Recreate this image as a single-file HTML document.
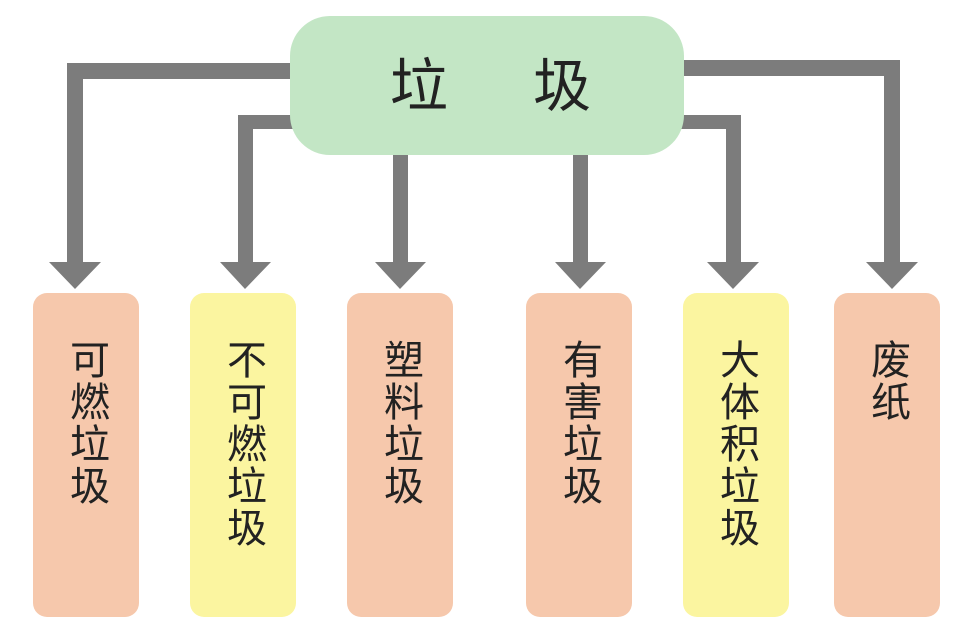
<!DOCTYPE html>
<html><head><meta charset="utf-8"><style>
body{margin:0;width:956px;height:642px;background:#fff;position:relative;overflow:hidden;font-family:"Liberation Sans","Noto Sans CJK SC",sans-serif;color:#222}
.b{position:absolute;top:293px;width:106px;height:324px;border-radius:14px;writing-mode:vertical-rl;font-size:40px;line-height:106px;padding-top:46px;box-sizing:border-box;letter-spacing:2px}
.p{background:#f6c8ac}.y{background:#fbf5a0}
</style></head><body>
<svg width="956" height="642" style="position:absolute;left:0;top:0">
<g fill="#7c7c7c">
<rect x="67" y="63" width="230" height="16"/><rect x="67" y="63" width="16" height="205"/>
<rect x="238" y="115" width="60" height="14"/><rect x="238" y="115" width="15" height="153"/>
<rect x="393" y="140" width="15" height="128"/>
<rect x="573" y="140" width="15" height="128"/>
<rect x="676" y="115" width="65" height="14"/><rect x="726" y="115" width="15" height="153"/>
<rect x="676" y="60" width="224" height="16"/><rect x="884" y="60" width="16" height="208"/>
<polygon points="49,262 101,262 75,289"/>
<polygon points="220,262 271,262 245,289"/>
<polygon points="375,262 426,262 400,289"/>
<polygon points="555,262 606,262 580,289"/>
<polygon points="707,262 759,262 733,289"/>
<polygon points="866,262 918,262 892,289"/>
</g>
<rect x="290" y="16" width="394" height="139" rx="40" fill="#c3e6c5"/>
<text x="390" y="106" font-size="58" font-family="Noto Sans CJK SC" fill="#222">垃</text>
<text x="533" y="106" font-size="58" font-family="Noto Sans CJK SC" fill="#222">圾</text>
</svg>
<div class="b p" style="left:33px">可燃垃圾</div>
<div class="b y" style="left:190px">不可燃垃圾</div>
<div class="b p" style="left:347px">塑料垃圾</div>
<div class="b p" style="left:526px">有害垃圾</div>
<div class="b y" style="left:683px">大体积垃圾</div>
<div class="b p" style="left:834px">废纸</div>
</body></html>
